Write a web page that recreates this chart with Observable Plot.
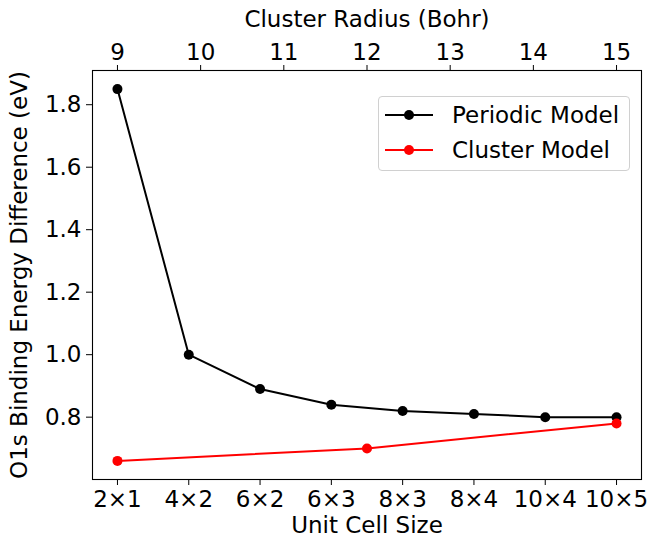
<!DOCTYPE html>
<html>
<head>
<meta charset="utf-8">
<script src="https://cdn.jsdelivr.net/npm/d3@7"></script>
<script src="https://cdn.jsdelivr.net/npm/@observablehq/plot@0.6"></script>
<style>
  body { margin: 0; background: #fff; }
  #wrap { position: relative; width: 648px; height: 536px; font-family: "DejaVu Sans"; }
  #legend { position: absolute; left: 378px; top: 96px; width: 252px; height: 75px;
    border: 1px solid #d0d0d0; border-radius: 4px; background: rgba(255,255,255,0.8); box-sizing: border-box; }
  .row { position: absolute; left: 0; height: 26px; display: flex; align-items: center; font-size: 23px; color: #000; white-space: nowrap; }
  .row svg { margin-left: 6px; margin-right: 19px; }
</style>
</head>
<body>
<div id="wrap"></div>
<script>
// Data
const cells = ["2×1", "4×2", "6×2", "6×3", "8×3", "8×4", "10×4", "10×5"];
const periodic = [1.85, 1.00, 0.89, 0.84, 0.82, 0.81, 0.80, 0.80];
const radiusTicks = [9, 10, 11, 12, 13, 14, 15];
const clusterRadius = [9, 12, 15];
const cluster = [0.66, 0.70, 0.78];
const yTicks = [0.8, 1.0, 1.2, 1.4, 1.6, 1.8];
const seriesNames = ["Periodic Model", "Cluster Model"];
const seriesColors = ["#000000", "#ff0000"];

// radius -> position on the unit-cell index axis (9 Bohr = first cell, 15 Bohr = last cell)
const toIdx = r => (r - 9) * (cells.length - 1) / 6;
const fromIdx = i => 9 + i * 6 / (cells.length - 1);

const periodicData = cells.map((c, i) => ({i, v: periodic[i]}));
const clusterData = clusterRadius.map((r, k) => ({i: toIdx(r), v: cluster[k]}));

const plot = Plot.plot({
  width: 648, height: 536,
  marginLeft: 92, marginRight: 7, marginTop: 70, marginBottom: 57,
  style: {fontFamily: "DejaVu Sans", fontSize: "23px", color: "#000", background: "#fff", overflow: "visible"},
  x: {domain: [-0.35, 7.35]},
  y: {domain: [0.6005, 1.9095]},
  marks: [
    Plot.axisX(cells.map((c, i) => i), {anchor: "bottom", tickFormat: i => cells[Math.round(i)], tickSize: 6, tickPadding: 5,
      fontSize: 23, label: "Unit Cell Size", labelAnchor: "center", labelArrow: "none", labelOffset: 53}),
    Plot.axisX(radiusTicks.map(toIdx), {anchor: "top", tickFormat: d => String(Math.round(fromIdx(d))), tickSize: 6, tickPadding: 5,
      fontSize: 23, label: "Cluster Radius (Bohr)", labelAnchor: "center", labelArrow: "none", labelOffset: 60}),
    Plot.axisY(yTicks, {anchor: "left", tickFormat: d => d.toFixed(1), tickSize: 6, tickPadding: 5,
      fontSize: 23, label: "O1s Binding Energy Difference (eV)", labelAnchor: "center", labelArrow: "none", labelOffset: 82}),
    Plot.line(periodicData, {x: "i", y: "v", stroke: seriesColors[0], strokeWidth: 2}),
    Plot.dot(periodicData, {x: "i", y: "v", fill: seriesColors[0], r: 5}),
    Plot.line(clusterData, {x: "i", y: "v", stroke: seriesColors[1], strokeWidth: 2}),
    Plot.dot(clusterData, {x: "i", y: "v", fill: seriesColors[1], r: 5}),
    Plot.frame({stroke: "#000", strokeWidth: 1.1})
  ]
});
const wrap = document.getElementById("wrap");
wrap.appendChild(plot);

// Legend
const legend = document.createElement("div");
legend.id = "legend";
seriesNames.forEach((name, k) => {
  const row = document.createElement("div");
  row.className = "row";
  row.style.top = (k === 0 ? 5 : 40) + "px";
  row.innerHTML = `<svg width="48" height="12"><line x1="0" x2="48" y1="6" y2="6" stroke="${seriesColors[k]}" stroke-width="2"/><circle cx="24" cy="6" r="5" fill="${seriesColors[k]}"/></svg><span>${name}</span>`;
  legend.appendChild(row);
});
wrap.appendChild(legend);
</script>
</body>
</html>
